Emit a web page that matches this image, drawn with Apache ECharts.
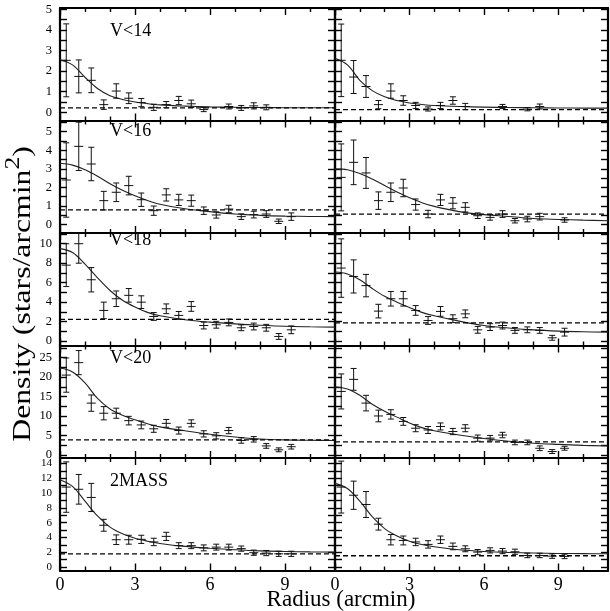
<!DOCTYPE html>
<html>
<head>
<meta charset="utf-8">
<script src="https://cdn.jsdelivr.net/npm/echarts@6/dist/echarts.min.js"></script>
<style>
  html, body { margin: 0; padding: 0; background: #fff; }
  #chart { width: 610px; height: 611px; }
</style>
</head>
<body>
<div id="chart"></div>
<script>
// Radial bins (arcmin) of the binned star counts
const radii = [0.25, 0.75, 1.25, 1.75, 2.25, 2.75, 3.25, 3.75, 4.25, 4.75,
               5.25, 5.75, 6.25, 6.75, 7.25, 7.75, 8.25, 8.75, 9.25];
// Radii at which the fitted profiles are sampled
const curveRadii = [0, 0.5, 1, 1.5, 2, 2.5, 3, 3.5, 4, 5, 6, 7, 8, 9, 10, 11];

const panelNames = ['V<14', 'V<16', 'V<18', 'V<20', '2MASS'];

// V<14
const v14LeftDensity  = [2.52, 1.74, 1.55, 0.37, 1.03, 0.68, 0.47, 0.24, 0.37, 0.57, 0.41, 0.13, null, 0.28, 0.21, 0.31, 0.24, null, null];
const v14LeftError    = [1.77, 0.80, 0.60, 0.23, 0.35, 0.26, 0.20, 0.15, 0.15, 0.20, 0.18, 0.10, null, 0.12, 0.12, 0.15, 0.12, null, null];
const v14RightDensity = [2.52, 1.71, 1.25, 0.37, 1.03, 0.57, 0.33, 0.16, 0.33, 0.57, 0.28, null, null, 0.28, null, 0.15, 0.28, null, null];
const v14RightError   = [1.76, 0.80, 0.53, 0.20, 0.35, 0.23, 0.15, 0.10, 0.15, 0.18, 0.15, null, null, 0.10, null, 0.08, 0.12, null, null];
const v14LeftFit  = [2.55, 2.30, 1.70, 1.15, 0.80, 0.62, 0.50, 0.42, 0.36, 0.30, 0.26, 0.24, 0.23, 0.22, 0.22, 0.22];
const v14RightFit = [2.62, 2.30, 1.55, 1.05, 0.75, 0.57, 0.45, 0.38, 0.33, 0.28, 0.25, 0.23, 0.22, 0.21, 0.20, 0.20];

// V<16
const v16LeftDensity  = [2.40, 4.21, 3.26, 1.29, 1.74, 2.10, 1.34, 0.75, 1.60, 1.33, 1.29, 0.75, 0.52, 0.84, 0.43, 0.54, 0.57, 0.18, 0.43];
const v16LeftError    = [2.00, 1.30, 0.90, 0.50, 0.50, 0.50, 0.36, 0.25, 0.33, 0.30, 0.30, 0.20, 0.17, 0.20, 0.15, 0.18, 0.18, 0.12, 0.20];
const v16RightDensity = [2.54, 3.35, 2.78, 1.29, 1.74, 1.97, 1.08, 0.57, 1.33, 1.15, 0.93, 0.48, 0.39, 0.57, 0.21, 0.30, 0.43, null, 0.25];
const v16RightError   = [1.80, 1.20, 0.83, 0.47, 0.50, 0.47, 0.30, 0.20, 0.30, 0.30, 0.25, 0.15, 0.15, 0.18, 0.12, 0.15, 0.18, null, 0.12];
const v16LeftFit  = [3.30, 3.20, 2.95, 2.60, 2.20, 1.85, 1.55, 1.30, 1.10, 0.85, 0.70, 0.57, 0.50, 0.46, 0.44, 0.43];
const v16RightFit = [3.00, 2.95, 2.75, 2.45, 2.10, 1.75, 1.45, 1.18, 0.98, 0.70, 0.54, 0.44, 0.33, 0.28, 0.24, 0.21];

// V<18
const v18LeftDensity  = [7.80, 10.0, 6.30, 3.15, 4.35, 4.70, 4.00, 2.53, 3.32, 2.64, 3.56, 1.60, 1.68, 1.92, 1.37, 1.50, 1.37, 0.48, 1.16];
const v18LeftError    = [2.20, 2.00, 1.25, 0.85, 0.80, 0.70, 0.65, 0.40, 0.50, 0.40, 0.50, 0.35, 0.35, 0.35, 0.30, 0.35, 0.35, 0.30, 0.40];
const v18RightDensity = [7.50, 6.64, 5.70, 3.08, 4.35, 4.35, 3.15, 2.12, 3.05, 2.30, 2.80, 1.16, 1.44, 1.60, 1.10, 1.16, 1.10, 0.34, 0.92];
const v18RightError   = [3.00, 1.70, 1.15, 0.70, 0.75, 0.75, 0.50, 0.40, 0.50, 0.40, 0.40, 0.35, 0.35, 0.35, 0.30, 0.30, 0.30, 0.25, 0.40];
const v18LeftFit  = [9.50, 9.10, 7.90, 6.50, 5.20, 4.20, 3.50, 2.95, 2.60, 2.20, 1.95, 1.77, 1.63, 1.52, 1.47, 1.44];
const v18RightFit = [7.10, 6.90, 6.30, 5.40, 4.60, 4.00, 3.45, 2.95, 2.60, 2.05, 1.60, 1.35, 1.15, 1.03, 0.96, 0.92];

// V<20
const v20LeftDensity  = [20.5, 23.7, 13.3, 10.7, 10.7, 8.80, 7.70, 6.70, 8.10, 6.25, 8.10, 5.40, 4.90, 6.25, 3.70, 4.00, 2.30, 1.30, 2.10];
const v20LeftError    = [4.40, 3.10, 2.10, 1.70, 1.30, 1.10, 1.00, 0.90, 1.00, 0.90, 0.90, 0.80, 0.80, 0.80, 0.70, 0.70, 0.60, 0.50, 0.60];
const v20RightDensity = [16.3, 19.4, 13.3, 10.0, 10.4, 8.60, 6.85, 6.40, 7.30, 6.00, 6.85, 4.30, 4.30, 5.10, 3.20, 3.20, 1.70, 0.86, 1.70];
const v20RightError   = [4.50, 2.80, 2.00, 1.50, 1.20, 1.00, 0.90, 0.90, 0.90, 0.80, 0.90, 0.80, 0.70, 0.70, 0.60, 0.60, 0.60, 0.50, 0.50];
const v20LeftFit  = [22.3, 21.3, 18.5, 14.5, 11.8, 10.2, 9.00, 8.00, 7.20, 6.20, 5.30, 4.60, 4.10, 3.85, 3.75, 3.70];
const v20RightFit = [17.5, 16.9, 15.3, 13.0, 11.2, 9.70, 8.20, 7.00, 6.20, 5.10, 4.20, 3.50, 3.00, 2.70, 2.45, 2.30];

// 2MASS
const tmassLeftDensity  = [10.8, 10.5, 9.40, 5.65, 3.70, 3.70, 3.75, 3.40, 4.15, 2.90, 2.90, 2.60, 2.70, 2.70, 2.50, 1.95, 1.90, 1.80, 1.80];
const tmassLeftError    = [3.40, 2.00, 1.90, 0.80, 0.65, 0.60, 0.55, 0.50, 0.55, 0.40, 0.40, 0.40, 0.40, 0.40, 0.35, 0.35, 0.35, 0.35, 0.35];
const tmassRightDensity = [10.8, 9.70, 8.45, 5.80, 3.70, 3.60, 3.40, 3.07, 3.70, 2.80, 2.48, 2.03, 2.26, 2.17, 2.08, 1.58, 1.58, 1.49, 1.45];
const tmassRightError   = [3.50, 1.90, 1.75, 0.80, 0.70, 0.60, 0.50, 0.50, 0.50, 0.45, 0.40, 0.35, 0.35, 0.35, 0.35, 0.30, 0.30, 0.30, 0.30];
const tmassLeftFit  = [11.8, 10.9, 8.90, 6.90, 5.40, 4.50, 3.90, 3.50, 3.20, 2.80, 2.55, 2.35, 2.20, 2.12, 2.06, 2.03];
const tmassRightFit = [11.3, 10.6, 8.90, 6.80, 5.20, 4.20, 3.50, 3.05, 2.75, 2.35, 2.12, 1.98, 1.90, 1.85, 1.82, 1.80];

// Field background densities (dashed lines), left and right columns
const backgroundLeft  = [0.21, 0.79, 2.23, 3.85, 1.80];
const backgroundRight = [0.13, 0.57, 1.88, 3.34, 1.54];

// Axis extents and ticks
const xRange = [0, 11];
const xMajorTicks = [0, 3, 6, 9];
const xMinorTicks = [1, 2, 4, 5, 7, 8, 10];
const yRanges = [[-0.4, 5.06], [-0.45, 5.6], [-0.45, 11.1], [-0.8, 28.1], [-0.45, 14.72]];
const yLabelTicks = [
  [0, 1, 2, 3, 4, 5],
  [0, 1, 2, 3, 4, 5],
  [0, 2, 4, 6, 8, 10],
  [0, 5, 10, 15, 20, 25],
  [0, 2, 4, 6, 8, 10, 12, 14]
];
const yAllTicks = [
  [0, 0.5, 1, 1.5, 2, 2.5, 3, 3.5, 4, 4.5, 5],
  [0, 0.5, 1, 1.5, 2, 2.5, 3, 3.5, 4, 4.5, 5, 5.5],
  [0, 1, 2, 3, 4, 5, 6, 7, 8, 9, 10, 11],
  [0, 2.5, 5, 7.5, 10, 12.5, 15, 17.5, 20, 22.5, 25, 27.5],
  [0, 1, 2, 3, 4, 5, 6, 7, 8, 9, 10, 11, 12, 13, 14]
];

const rows = [
  [[v14LeftDensity, v14LeftError, v14LeftFit], [v14RightDensity, v14RightError, v14RightFit]],
  [[v16LeftDensity, v16LeftError, v16LeftFit], [v16RightDensity, v16RightError, v16RightFit]],
  [[v18LeftDensity, v18LeftError, v18LeftFit], [v18RightDensity, v18RightError, v18RightFit]],
  [[v20LeftDensity, v20LeftError, v20LeftFit], [v20RightDensity, v20RightError, v20RightFit]],
  [[tmassLeftDensity, tmassLeftError, tmassLeftFit], [tmassRightDensity, tmassRightError, tmassRightFit]]
];

// ---- layout ----
const FONT = 'Liberation Serif';
const colLeft = [60, 335];
const colWidth = [275, 273];
const rowTop = [8, 120.5, 233, 345.5, 458];
const rowHeight = 112.5;
const nameTopOffset = [14, 2, -2, 4, 14];
const INK = '#000';
const axisLineStyle = { color: INK, width: 2.2 };
const tickLineStyle = { color: INK, width: 1.4 };

const grids = [], xAxes = [], yAxes = [], series = [], graphics = [];

rows.forEach((row, r) => {
  row.forEach(([density, error, fit], c) => {
    const p = grids.length;
    grids.push({ left: colLeft[c], top: rowTop[r], width: colWidth[c], height: rowHeight });

    ['bottom', 'top'].forEach(pos => {
      xAxes.push({
        gridIndex: p, type: 'value', position: pos, min: xRange[0], max: xRange[1],
        axisLine: { show: true, onZero: false, lineStyle: axisLineStyle },
        axisTick: { show: true, inside: true, length: 7, customValues: xMajorTicks, lineStyle: tickLineStyle },
        axisLabel: {
          show: pos === 'bottom' && r === rows.length - 1,
          customValues: xMajorTicks, margin: 6,
          color: INK, fontFamily: FONT, fontSize: 18
        },
        splitLine: { show: false }
      });
      xAxes.push({
        gridIndex: p, type: 'value', position: pos, min: xRange[0], max: xRange[1],
        axisLine: { show: false, onZero: false },
        axisTick: { show: true, inside: true, length: 4, customValues: xMinorTicks, lineStyle: tickLineStyle },
        axisLabel: { show: false },
        splitLine: { show: false }
      });
    });

    ['left', 'right'].forEach(pos => {
      yAxes.push({
        gridIndex: p, type: 'value', position: pos, min: yRanges[r][0], max: yRanges[r][1],
        axisLine: { show: true, onZero: false, lineStyle: axisLineStyle },
        axisTick: { show: true, inside: true, length: 7, customValues: yAllTicks[r], lineStyle: tickLineStyle },
        axisLabel: {
          show: pos === 'left' && c === 0,
          customValues: yLabelTicks[r], margin: 8,
          color: INK, fontFamily: FONT, fontSize: r === 4 ? 11 : 12.5
        },
        splitLine: { show: false }
      });
    });

    const xIdx = p * 4, yIdx = p * 2;
    const points = [];
    radii.forEach((rad, i) => {
      if (density[i] !== null) points.push([rad, density[i], error[i]]);
    });

    // error bars: vertical bar with end caps and a horizontal bin marker
    series.push({
      type: 'custom', xAxisIndex: xIdx, yAxisIndex: yIdx, silent: true, z: 3,
      data: points,
      renderItem: function (params, api) {
        const x = api.value(0), v = api.value(1), e = api.value(2);
        const cs = params.coordSys;
        const mid = api.coord([x, v]);
        const hi = api.coord([x, v + e]);
        const lo = api.coord([x, v - e]);
        const top = Math.max(hi[1], cs.y);
        const bot = Math.min(lo[1], cs.y + cs.height);
        const style = { stroke: '#111', lineWidth: 1 };
        const kids = [
          { type: 'line', shape: { x1: mid[0], y1: top, x2: mid[0], y2: bot }, style },
          { type: 'line', shape: { x1: mid[0] - 4.5, y1: mid[1], x2: mid[0] + 4.5, y2: mid[1] }, style }
        ];
        if (hi[1] >= cs.y) kids.push({ type: 'line', shape: { x1: mid[0] - 3, y1: hi[1], x2: mid[0] + 3, y2: hi[1] }, style });
        if (lo[1] <= cs.y + cs.height) kids.push({ type: 'line', shape: { x1: mid[0] - 3, y1: lo[1], x2: mid[0] + 3, y2: lo[1] }, style });
        return { type: 'group', children: kids };
      }
    });

    // fitted profile
    series.push({
      type: 'line', xAxisIndex: xIdx, yAxisIndex: yIdx, silent: true, z: 2,
      data: curveRadii.map((rad, i) => [rad, fit[i]]),
      smooth: 0.35, showSymbol: false, symbol: 'none',
      lineStyle: { color: '#222', width: 1.1 }
    });

    // background level
    const bg = c === 0 ? backgroundLeft[r] : backgroundRight[r];
    series.push({
      type: 'line', xAxisIndex: xIdx, yAxisIndex: yIdx, silent: true, z: 2,
      data: [[xRange[0], bg], [xRange[1], bg]],
      showSymbol: false, symbol: 'none',
      lineStyle: { color: INK, width: 1.3, type: [5, 3] }
    });
  });

  graphics.push({
    type: 'text', x: 110, y: rowTop[r] + nameTopOffset[r], silent: true,
    style: {
      text: panelNames[r], fill: INK, fontSize: 18, fontFamily: FONT, fontWeight: 'normal',
      textAlign: 'left', textVerticalAlign: 'top', align: 'left', verticalAlign: 'top'
    }
  });
});

// x axis title
graphics.push({
  type: 'text', x: 341, y: 600, silent: true,
  style: {
    text: 'Radius (arcmin)', fill: INK, fontSize: 23, fontFamily: FONT, fontWeight: 'normal',
    textAlign: 'center', textVerticalAlign: 'middle', align: 'center', verticalAlign: 'middle'
  }
});

// y axis title, built from plain text pieces so the superscript can be raised
const measure = document.createElement('canvas').getContext('2d');
function textWidth(str, size) {
  measure.font = size + 'px "' + FONT + '"';
  return measure.measureText(str).width;
}
const titleMain = 'Density (stars/arcmin', titleSup = '2', titleEnd = ')';
const mainSize = 26, supSize = 21;
const w1 = textWidth(titleMain, mainSize), w2 = textWidth(titleSup, supSize), w3 = textWidth(titleEnd, mainSize);
const x0 = -(w1 + w2 + w3) / 2;
function titlePiece(str, x, y, size) {
  return {
    type: 'text', x: x, y: y, silent: true,
    style: {
      text: str, fill: INK, fontSize: size, fontFamily: FONT, fontWeight: 'normal',
      textAlign: 'left', textVerticalAlign: 'middle', align: 'left', verticalAlign: 'middle'
    }
  };
}
graphics.push({
  type: 'group', x: 23, y: 294, rotation: Math.PI / 2, scaleX: 1.22, silent: true,
  children: [
    titlePiece(titleMain, x0, 0, mainSize),
    titlePiece(titleSup, x0 + w1, -10, supSize),
    titlePiece(titleEnd, x0 + w1 + w2, 0, mainSize)
  ]
});

const chart = echarts.init(document.getElementById('chart'), null, { renderer: 'canvas' });
chart.setOption({
  animation: false,
  backgroundColor: '#fff',
  grid: grids,
  xAxis: xAxes,
  yAxis: yAxes,
  series: series,
  graphic: graphics
});
</script>
</body>
</html>
